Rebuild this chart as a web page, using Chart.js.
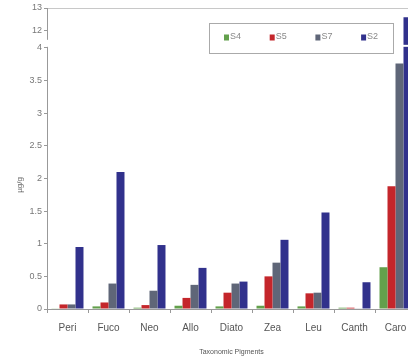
<!DOCTYPE html>
<html>
<head>
<meta charset="utf-8">
<script src="https://cdn.jsdelivr.net/npm/chart.js@4/dist/chart.umd.min.js"></script>
<style>
  html, body { margin: 0; padding: 0; background: #fff; overflow: hidden; }
  #c { display: block; }
</style>
</head>
<body>
<canvas id="c" width="416" height="362"></canvas>
<script>
// Pigment concentrations per station
const categories = ['Peri', 'Fuco', 'Neo', 'Allo', 'Diato', 'Zea', 'Leu', 'Canth', 'Caro'];
const seriesNames = ['S4', 'S5', 'S7', 'S2'];
const s4 = [0.01, 0.04, 0.02, 0.05, 0.04, 0.05, 0.04, 0.02, 0.64];
const s5 = [0.07, 0.10, 0.06, 0.17, 0.25, 0.50, 0.24, 0.02, 1.88];
const s7 = [0.07, 0.39, 0.28, 0.37, 0.39, 0.71, 0.25, 0.01, 3.76];
const s2 = [0.95, 2.10, 0.98, 0.63, 0.42, 1.06, 1.48, 0.41, 12.6];
const yTicks = [0, 0.5, 1, 1.5, 2, 2.5, 3, 3.5, 4, 12, 13];
const seriesColors = ['#63a04c', '#c4262b', '#5f6678', '#31318c'];

const FONT = '"Liberation Sans", Arial, sans-serif';

// Broken value axis: 0..4 linear, a short gap, then 12..13 compressed on top
const LOW_TOP = 4, HIGH_BOTTOM = 12;
const GAP = 0.26, HIGH_SPAN = 0.352;
function toAxis(v) {
  if (v <= LOW_TOP) return v;
  if (v < HIGH_BOTTOM) return LOW_TOP + (v - LOW_TOP) / (HIGH_BOTTOM - LOW_TOP) * GAP;
  return LOW_TOP + GAP + (v - HIGH_BOTTOM) * HIGH_SPAN;
}
function fromAxis(t) {
  if (t <= LOW_TOP) return t;
  if (t < LOW_TOP + GAP) return LOW_TOP + (t - LOW_TOP) / GAP * (HIGH_BOTTOM - LOW_TOP);
  return HIGH_BOTTOM + (t - LOW_TOP - GAP) / HIGH_SPAN;
}

class BrokenLinearScale extends Chart.LinearScale {
  determineDataLimits() {
    this.min = 0;
    this.max = toAxis(yTicks[yTicks.length - 1]);
  }
  buildTicks() {
    return yTicks.map(v => ({ value: v }));
  }
  getPixelForValue(v) {
    if (v === null || v === undefined) return NaN;
    return super.getPixelForValue(toAxis(v));
  }
  getValueForPixel(p) {
    return fromAxis(super.getValueForPixel(p));
  }
}
BrokenLinearScale.id = 'brokenLinear';
BrokenLinearScale.defaults = Chart.LinearScale.defaults;
Chart.register(BrokenLinearScale);

// Break marks on the value axis and through the tall bars
const axisBreak = {
  id: 'axisBreak',
  afterDraw(chart) {
    const { ctx, chartArea } = chart;
    const y = chart.scales.y.getPixelForValue(5);
    ctx.save();
    ctx.fillStyle = '#fff';
    ctx.fillRect(chartArea.left, y - 1, chartArea.right - chartArea.left, 2);
    ctx.fillRect(chartArea.left - 4, y - 6, 8, 6);
    ctx.restore();
  }
};

// Y axis title
const yTitle = {
  id: 'yTitle',
  afterDraw(chart) {
    const { ctx } = chart;
    ctx.save();
    ctx.translate(20, 185);
    ctx.rotate(-Math.PI / 2);
    ctx.fillStyle = '#666';
    ctx.font = '8px ' + FONT;
    ctx.textAlign = 'center';
    ctx.textBaseline = 'middle';
    ctx.fillText('\u00b5g/g', 0, 0);
    ctx.restore();
  }
};

// Boxed legend floating inside the plot
const boxLegend = {
  id: 'boxLegend',
  afterDraw(chart) {
    const { ctx } = chart;
    const box = { x: 209.5, y: 23.5, w: 184, h: 30 };
    ctx.save();
    ctx.fillStyle = '#fff';
    ctx.fillRect(box.x, box.y, box.w, box.h);
    ctx.strokeStyle = '#aaa';
    ctx.lineWidth = 1;
    ctx.strokeRect(box.x, box.y, box.w, box.h);
    ctx.font = '9px ' + FONT;
    ctx.textBaseline = 'middle';
    ctx.textAlign = 'left';
    chart.data.datasets.forEach((ds, i) => {
      const x = 224 + i * 45.7;
      const yc = box.y + 13;
      ctx.fillStyle = ds.backgroundColor;
      ctx.fillRect(x, yc - 2, 5, 6);
      ctx.fillStyle = '#888';
      ctx.fillText(ds.label, x + 6, yc);
    });
    ctx.restore();
  }
};

const values = [s4, s5, s7, s2];
new Chart(document.getElementById('c'), {
  type: 'bar',
  data: {
    labels: categories,
    datasets: seriesNames.map((name, i) => ({
      label: name,
      data: values[i],
      backgroundColor: seriesColors[i],
      borderWidth: 0,
      categoryPercentage: 0.78,
      barPercentage: 1.0
    }))
  },
  options: {
    responsive: false,
    animation: false,
    layout: { padding: { top: 8, right: 0, left: 0, bottom: 0 } },
    plugins: { legend: { display: false }, tooltip: { enabled: false } },
    scales: {
      x: {
        border: { color: '#999', width: 1 },
        grid: { display: true, drawOnChartArea: false, offset: true, tickLength: 4, color: '#999' },
        ticks: { color: '#555', font: { family: FONT, size: 10 }, padding: 9, autoSkip: false, maxRotation: 0 },
        title: { display: true, text: 'Taxonomic Pigments', color: '#555', font: { family: FONT, size: 7 }, padding: { top: 4, bottom: 6 } },
        afterFit: s => { s.height = 53; }
      },
      y: {
        type: 'brokenLinear',
        position: 'left',
        border: { color: '#999', width: 1 },
        grid: {
          color: c => (c.tick && c.tick.value === 13 ? '#c8c8c8' : 'rgba(0,0,0,0)'),
          tickColor: '#999',
          tickLength: 3
        },
        ticks: { color: '#777', font: { family: FONT, size: 9 }, padding: 2, autoSkip: false, callback: v => String(v) },
        afterFit: s => { s.width = 47; }
      }
    }
  },
  plugins: [axisBreak, yTitle, boxLegend]
});
</script>
</body>
</html>
